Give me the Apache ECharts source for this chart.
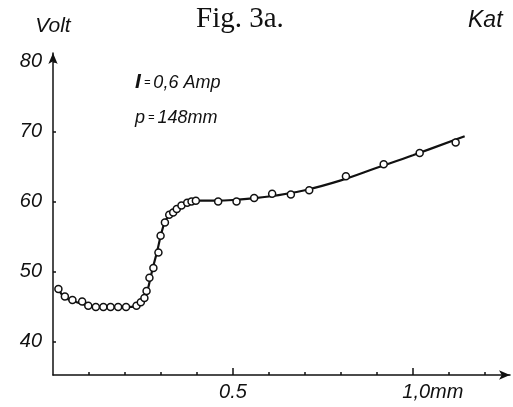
<!DOCTYPE html>
<html><head><meta charset="utf-8">
<script src="https://cdn.jsdelivr.net/npm/echarts@6/dist/echarts.min.js"></script>
<style>html,body{margin:0;padding:0;background:#fff}#c{width:513px;height:407px}</style>
</head><body><div id="c"></div>
<script>
// measured points: distance (mm) and voltage (V)
var pointX = [0.015,0.033,0.054,0.081,0.098,0.119,0.14,0.16,0.181,0.203,0.232,0.244,0.254,0.26,0.268,0.279,0.293,0.299,0.311,0.323,0.334,0.344,0.357,0.373,0.385,0.397,0.459,0.51,0.559,0.609,0.661,0.712,0.814,0.919,1.019,1.119];
var pointV = [47.5,46.4,45.9,45.7,45.1,44.9,44.9,44.9,44.9,44.9,45.1,45.6,46.2,47.2,49.1,50.5,52.7,55.1,57.0,58.1,58.4,58.9,59.4,59.8,60.0,60.1,60.0,60.0,60.5,61.1,61.0,61.6,63.6,65.3,66.9,68.4];
// fitted curve knots
var curveX = [0.015,0.033,0.06,0.1,0.14,0.2,0.232,0.25,0.262,0.275,0.29,0.3,0.312,0.33,0.36,0.39,0.45,0.5,0.6,0.7,0.8,0.9,1.0,1.144];
var curveV = [47.4,46.3,45.7,45.1,44.9,44.9,45.0,45.6,47.2,50.0,53.0,55.2,57.2,58.5,59.6,60.1,60.1,60.2,60.7,61.6,63.0,64.8,66.6,69.3];
var yTicks = [40,50,60,70,80];
var xTicks = [0.1,0.2,0.3,0.4,0.5,0.6,0.7,0.8,0.9,1.0,1.1,1.2];
var xMajor = [0.5,1.0];
var xLabels = {'0.5':'0.5','1':'{m|1,0mm}'};

var chart = echarts.init(document.getElementById('c'));
var fam = '"Liberation Sans", Arial, sans-serif';
chart.setOption({
  backgroundColor:'#fff',
  animation:false,
  title:[
    {text:'Fig. 3a.', left:191, top:0, textStyle:{fontFamily:'"Liberation Serif", serif', fontWeight:'normal', fontSize:29, color:'#111'}},
    {text:'Kat', left:463, top:4, textStyle:{fontFamily:fam, fontStyle:'italic', fontWeight:'normal', fontSize:23, color:'#111'}},
    {text:'{b|I}{s| = }0,6 Amp', left:130, top:67, textStyle:{fontFamily:fam, fontStyle:'italic', fontWeight:'normal', fontSize:18, color:'#111',
      rich:{b:{fontFamily:fam, fontWeight:'bold', fontStyle:'italic', fontSize:21, color:'#111'}, s:{fontSize:11, color:'#111', fontFamily:fam}}}},
    {text:'p{s| = }148mm', left:130, top:104, textStyle:{fontFamily:fam, fontStyle:'italic', fontWeight:'normal', fontSize:18, color:'#111',
      rich:{s:{fontSize:11, color:'#111', fontFamily:fam}}}}
  ],
  grid:{left:53, right:3, top:53, bottom:32, containLabel:false},
  xAxis:[{
    type:'value', min:0, max:1.27,
    splitLine:{show:false},
    axisLine:{lineStyle:{color:'#111', width:1.5}, symbol:['none','arrow'], symbolSize:[7,11]},
    axisTick:{show:true, inside:true, length:3, customValues:xTicks, lineStyle:{color:'#111', width:1.5}},
    axisLabel:{show:true, customValues:xMajor, margin:7, color:'#111', fontFamily:fam, fontStyle:'italic', fontSize:20,
      formatter:function(v){return xLabels[String(v)]||'';},
      rich:{m:{padding:[0,0,0,40], fontFamily:fam, fontStyle:'italic', fontSize:20, color:'#111'}}}
  },{
    type:'value', min:0, max:1.27, position:'bottom',
    splitLine:{show:false}, axisLine:{show:false}, axisLabel:{show:false},
    axisTick:{show:true, inside:true, length:7, customValues:xMajor, lineStyle:{color:'#111', width:1.5}}
  }],
  yAxis:{
    type:'value', min:35.2, max:81.2,
    name:'Volt', nameLocation:'end', nameGap:16,
    nameTextStyle:{fontFamily:fam, fontStyle:'italic', fontSize:21, color:'#111', align:'center'},
    splitLine:{show:false},
    axisLine:{lineStyle:{color:'#111', width:1.5}, symbol:['none','arrow'], symbolSize:[7,11]},
    axisTick:{show:true, inside:true, length:3, customValues:yTicks, lineStyle:{color:'#111', width:1.5}},
    axisLabel:{customValues:yTicks, margin:11, padding:[9,0,0,0], color:'#111', fontFamily:fam, fontStyle:'italic', fontSize:20}
  },
  series:[
    {type:'line', xAxisIndex:0, data:curveX.map(function(x,i){return [x,curveV[i]];}), smooth:0.4,
      showSymbol:false, lineStyle:{color:'#111', width:2.2}, z:2},
    {type:'scatter', xAxisIndex:0, data:pointX.map(function(x,i){return [x,pointV[i]];}), symbol:'circle', symbolSize:7,
      itemStyle:{color:'#fff', borderColor:'#111', borderWidth:1.5, opacity:1}, z:3}
  ]
});
</script></body></html>
